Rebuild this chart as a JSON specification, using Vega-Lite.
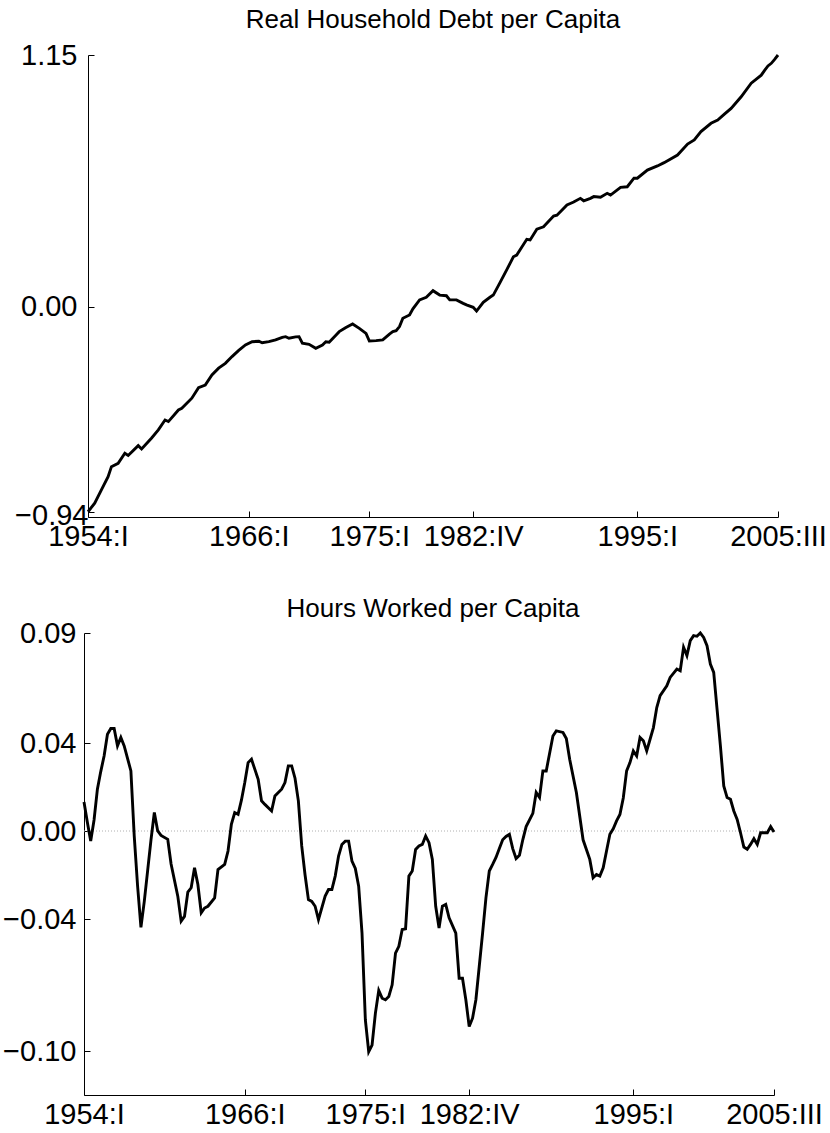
{
  "$schema": "https://vega.github.io/schema/vega-lite/v6.json",
  "background": "white",
  "padding": {"left": 0, "top": 7, "right": 0, "bottom": 0},
  "columns": 1,
  "spacing": 45,
  "config": {
    "font": "Liberation Sans",
    "view": {"stroke": null},
    "title": {"font": "Liberation Sans", "fontSize": 26, "fontWeight": "normal", "color": "black"},
    "axis": {
      "labelFont": "Liberation Sans", "labelFontSize": 29, "labelColor": "black",
      "domainColor": "black", "domainWidth": 1, "tickColor": "black", "tickSize": -6, "tickWidth": 1,
      "grid": false, "title": null, "labelOverlap": false, "labelFlush": false, "labelBound": false
    }
  },
  "datasets": {
    "debt": [
      {"q":0,"value":-0.937},{"q":2,"value":-0.898},{"q":4,"value":-0.837},{"q":6,"value":-0.777},{"q":7,"value":-0.731},
      {"q":9,"value":-0.716},{"q":11,"value":-0.67},{"q":12,"value":-0.68},{"q":15,"value":-0.635},{"q":16,"value":-0.65},
      {"q":19,"value":-0.60},{"q":21,"value":-0.563},{"q":23,"value":-0.518},{"q":24,"value":-0.525},{"q":27,"value":-0.472},
      {"q":28,"value":-0.464},{"q":31,"value":-0.418},{"q":33,"value":-0.37},{"q":35,"value":-0.358},{"q":37,"value":-0.312},
      {"q":39,"value":-0.281},{"q":41,"value":-0.259},{"q":43,"value":-0.228},{"q":45,"value":-0.20},{"q":47,"value":-0.175},
      {"q":49,"value":-0.16},{"q":51,"value":-0.158},{"q":52,"value":-0.165},{"q":54,"value":-0.16},{"q":56,"value":-0.152},
      {"q":58,"value":-0.14},{"q":59,"value":-0.137},{"q":60,"value":-0.144},{"q":62,"value":-0.138},{"q":63,"value":-0.137},
      {"q":64,"value":-0.167},{"q":66,"value":-0.172},{"q":68,"value":-0.19},{"q":70,"value":-0.175},{"q":71,"value":-0.16},
      {"q":72,"value":-0.162},{"q":74,"value":-0.13},{"q":75,"value":-0.114},{"q":77,"value":-0.095},{"q":79,"value":-0.079},
      {"q":81,"value":-0.099},{"q":83,"value":-0.122},{"q":84,"value":-0.157},{"q":86,"value":-0.155},{"q":88,"value":-0.152},
      {"q":90,"value":-0.125},{"q":91,"value":-0.114},{"q":92,"value":-0.11},{"q":93,"value":-0.091},{"q":94,"value":-0.053},
      {"q":96,"value":-0.038},{"q":97,"value":-0.01},{"q":99,"value":0.031},{"q":101,"value":0.043},{"q":103,"value":0.073},
      {"q":105,"value":0.053},{"q":107,"value":0.05},{"q":108,"value":0.031},{"q":110,"value":0.031},{"q":112,"value":0.015},
      {"q":113,"value":0.008},{"q":115,"value":-0.003},{"q":116,"value":-0.02},{"q":118,"value":0.02},{"q":120,"value":0.043},
      {"q":121,"value":0.053},{"q":123,"value":0.11},{"q":125,"value":0.168},{"q":127,"value":0.228},{"q":128,"value":0.236},
      {"q":131,"value":0.308},{"q":132,"value":0.305},{"q":134,"value":0.354},{"q":136,"value":0.365},{"q":139,"value":0.414},
      {"q":140,"value":0.418},{"q":143,"value":0.465},{"q":145,"value":0.478},{"q":147,"value":0.495},{"q":148,"value":0.484},
      {"q":150,"value":0.495},{"q":151,"value":0.503},{"q":153,"value":0.5},{"q":155,"value":0.518},{"q":156,"value":0.51},
      {"q":159,"value":0.545},{"q":161,"value":0.548},{"q":163,"value":0.587},{"q":164,"value":0.587},{"q":167,"value":0.624},
      {"q":170,"value":0.643},{"q":172,"value":0.658},{"q":176,"value":0.693},{"q":179,"value":0.743},{"q":181,"value":0.762},
      {"q":183,"value":0.8},{"q":186,"value":0.838},{"q":188,"value":0.853},{"q":190,"value":0.88},{"q":192,"value":0.906},
      {"q":195,"value":0.959},{"q":198,"value":1.021},{"q":201,"value":1.058},{"q":202,"value":1.08},{"q":203,"value":1.1},
      {"q":204,"value":1.112},{"q":205,"value":1.13},{"q":206,"value":1.15}
    ],
    "hours": [
      {"q":0,"value":0.0132},{"q":1,"value":0.004},{"q":2,"value":-0.0046},{"q":3,"value":0.005},{"q":4,"value":0.019},
      {"q":5,"value":0.027},{"q":6,"value":0.0341},{"q":7,"value":0.044},{"q":8,"value":0.0466},{"q":9,"value":0.0466},
      {"q":10,"value":0.0387},{"q":11,"value":0.0425},{"q":12,"value":0.0387},{"q":14,"value":0.0273},{"q":15,"value":-0.0023},
      {"q":16,"value":-0.025},{"q":17,"value":-0.0438},{"q":18,"value":-0.032},{"q":19,"value":-0.018},{"q":20,"value":-0.004},
      {"q":21,"value":0.0084},{"q":22,"value":0.0},{"q":23,"value":-0.002},{"q":25,"value":-0.0038},{"q":26,"value":-0.015},
      {"q":28,"value":-0.0296},{"q":29,"value":-0.041},{"q":30,"value":-0.0388},{"q":31,"value":-0.0278},{"q":32,"value":-0.0258},
      {"q":33,"value":-0.0167},{"q":34,"value":-0.0243},{"q":35,"value":-0.0372},{"q":36,"value":-0.035},{"q":37,"value":-0.0342},
      {"q":39,"value":-0.0304},{"q":40,"value":-0.0175},{"q":42,"value":-0.0152},{"q":43,"value":-0.0091},{"q":44,"value":0.003},
      {"q":45,"value":0.0084},{"q":46,"value":0.0076},{"q":47,"value":0.014},{"q":48,"value":0.022},{"q":49,"value":0.0311},
      {"q":50,"value":0.0326},{"q":52,"value":0.0235},{"q":53,"value":0.0137},{"q":54,"value":0.0121},{"q":56,"value":0.0091},
      {"q":57,"value":0.0159},{"q":59,"value":0.019},{"q":60,"value":0.022},{"q":61,"value":0.0296},{"q":62,"value":0.0296},
      {"q":63,"value":0.024},{"q":64,"value":0.0137},{"q":65,"value":-0.0068},{"q":66,"value":-0.02},{"q":67,"value":-0.0312},
      {"q":68,"value":-0.032},{"q":69,"value":-0.0342},{"q":70,"value":-0.0403},{"q":72,"value":-0.0296},{"q":73,"value":-0.0266},
      {"q":74,"value":-0.0266},{"q":75,"value":-0.0205},{"q":76,"value":-0.0114},{"q":77,"value":-0.0061},{"q":78,"value":-0.0046},
      {"q":79,"value":-0.0046},{"q":80,"value":-0.0137},{"q":81,"value":-0.017},{"q":82,"value":-0.0251},{"q":83,"value":-0.0464},
      {"q":84,"value":-0.0859},{"q":85,"value":-0.1003},{"q":86,"value":-0.0973},{"q":87,"value":-0.0828},{"q":88,"value":-0.0725},
      {"q":89,"value":-0.076},{"q":90,"value":-0.0767},{"q":91,"value":-0.0752},{"q":92,"value":-0.0699},{"q":93,"value":-0.0555},
      {"q":94,"value":-0.0524},{"q":95,"value":-0.0448},{"q":96,"value":-0.0445},{"q":97,"value":-0.0205},{"q":98,"value":-0.0182},
      {"q":99,"value":-0.0084},{"q":100,"value":-0.0068},{"q":101,"value":-0.0061},{"q":102,"value":-0.0023},{"q":103,"value":-0.0053},
      {"q":104,"value":-0.0129},{"q":105,"value":-0.0342},{"q":106,"value":-0.0441},{"q":107,"value":-0.0342},{"q":108,"value":-0.0334},
      {"q":109,"value":-0.0395},{"q":111,"value":-0.0464},{"q":112,"value":-0.0669},{"q":113,"value":-0.0669},{"q":114,"value":-0.0767},
      {"q":115,"value":-0.0889},{"q":116,"value":-0.0851},{"q":117,"value":-0.0767},{"q":118,"value":-0.0616},{"q":119,"value":-0.0464},
      {"q":120,"value":-0.0304},{"q":121,"value":-0.0182},{"q":122,"value":-0.0152},{"q":123,"value":-0.012},{"q":124,"value":-0.008},
      {"q":125,"value":-0.004},{"q":126,"value":-0.0025},{"q":127,"value":-0.0015},{"q":128,"value":-0.008},{"q":129,"value":-0.0125},
      {"q":130,"value":-0.011},{"q":131,"value":-0.004},{"q":132,"value":0.002},{"q":134,"value":0.008},{"q":135,"value":0.0175},
      {"q":136,"value":0.0152},{"q":137,"value":0.0273},{"q":138,"value":0.0273},{"q":140,"value":0.0432},{"q":141,"value":0.0455},
      {"q":143,"value":0.0448},{"q":144,"value":0.042},{"q":145,"value":0.0326},{"q":147,"value":0.0175},{"q":149,"value":-0.004},
      {"q":151,"value":-0.0129},{"q":152,"value":-0.0213},{"q":153,"value":-0.0198},{"q":154,"value":-0.0205},{"q":155,"value":-0.0167},
      {"q":156,"value":-0.0091},{"q":157,"value":-0.0015},{"q":158,"value":0.001},{"q":159,"value":0.0046},{"q":160,"value":0.0075},
      {"q":161,"value":0.015},{"q":162,"value":0.0273},{"q":163,"value":0.0311},{"q":164,"value":0.0364},{"q":165,"value":0.0341},
      {"q":166,"value":0.0425},{"q":167,"value":0.041},{"q":168,"value":0.0364},{"q":169,"value":0.0417},{"q":170,"value":0.047},
      {"q":171,"value":0.0561},{"q":172,"value":0.0615},{"q":174,"value":0.066},{"q":175,"value":0.0698},{"q":177,"value":0.0736},
      {"q":178,"value":0.0728},{"q":179,"value":0.0835},{"q":180,"value":0.0797},{"q":181,"value":0.0865},{"q":182,"value":0.0888},
      {"q":183,"value":0.0885},{"q":184,"value":0.09},{"q":185,"value":0.088},{"q":186,"value":0.0842},{"q":187,"value":0.0759},
      {"q":188,"value":0.0721},{"q":189,"value":0.0554},{"q":190,"value":0.0387},{"q":191,"value":0.0205},{"q":192,"value":0.0152},
      {"q":193,"value":0.0144},{"q":194,"value":0.0091},{"q":195,"value":0.0053},{"q":196,"value":-0.0008},{"q":197,"value":-0.0073},
      {"q":198,"value":-0.0083},{"q":199,"value":-0.0061},{"q":200,"value":-0.0035},{"q":201,"value":-0.0061},{"q":202,"value":-0.0008},
      {"q":203,"value":-0.0008},{"q":204,"value":-0.0008},{"q":205,"value":0.002},{"q":206,"value":-0.0005}
    ]
  },
  "concat": [
    {
      "title": {"text": "Real Household Debt per Capita", "offset": 8},
      "width": 690,
      "height": 462,
      "data": {"name": "debt"},
      "mark": {"type": "line", "color": "black", "strokeWidth": 2.9},
      "encoding": {
        "x": {"field": "q", "type": "quantitative", "scale": {"domain": [0, 206], "nice": false, "zero": false},
              "axis": {"values": [0, 48, 84, 115, 164, 206], "labelPadding": 11,
                       "labelExpr": "(floor(datum.value/4)+1954) + ':' + ['I','II','III','IV'][datum.value % 4]"}},
        "y": {"field": "value", "type": "quantitative", "scale": {"domain": [-0.961, 1.15], "nice": false, "zero": false},
              "axis": {"values": [-0.94, 0, 1.15], "format": ".2f", "minExtent": 88,
                       "labelPadding": {"condition": {"test": "datum.value < -0.5", "value": 6}, "value": 17},
                       "labelOffset": {"condition": {"test": "datum.value < -0.5", "value": 3}, "value": 0}}}
      }
    },
    {
      "title": {"text": "Hours Worked per Capita", "offset": -3},
      "width": 690,
      "height": 462,
      "layer": [
        {
          "data": {"values": [{"level": 0, "start": 0, "end": 206}]},
          "mark": {"type": "rule", "color": "#b0b0b0", "strokeWidth": 1, "strokeDash": [1, 2]},
          "encoding": {
            "y": {"field": "level", "type": "quantitative"},
            "x": {"field": "start", "type": "quantitative"},
            "x2": {"field": "end"}
          }
        },
        {
          "data": {"name": "hours"},
          "mark": {"type": "line", "color": "black", "strokeWidth": 2.9},
          "encoding": {
            "x": {"field": "q", "type": "quantitative", "scale": {"domain": [0, 206], "nice": false, "zero": false, "range": [-4, 686]},
                  "axis": {"values": [0, 48, 84, 115, 164, 206], "labelPadding": 11,
                           "labelExpr": "(floor(datum.value/4)+1954) + ':' + ['I','II','III','IV'][datum.value % 4]"}},
            "y": {"field": "value", "type": "quantitative", "scale": {"domain": [-0.12, 0.09], "nice": false, "zero": false},
                  "axis": {"values": [-0.10, -0.04, 0, 0.04, 0.09], "format": ".2f", "offset": 4, "labelPadding": 14}}
          }
        }
      ]
    }
  ]
}
